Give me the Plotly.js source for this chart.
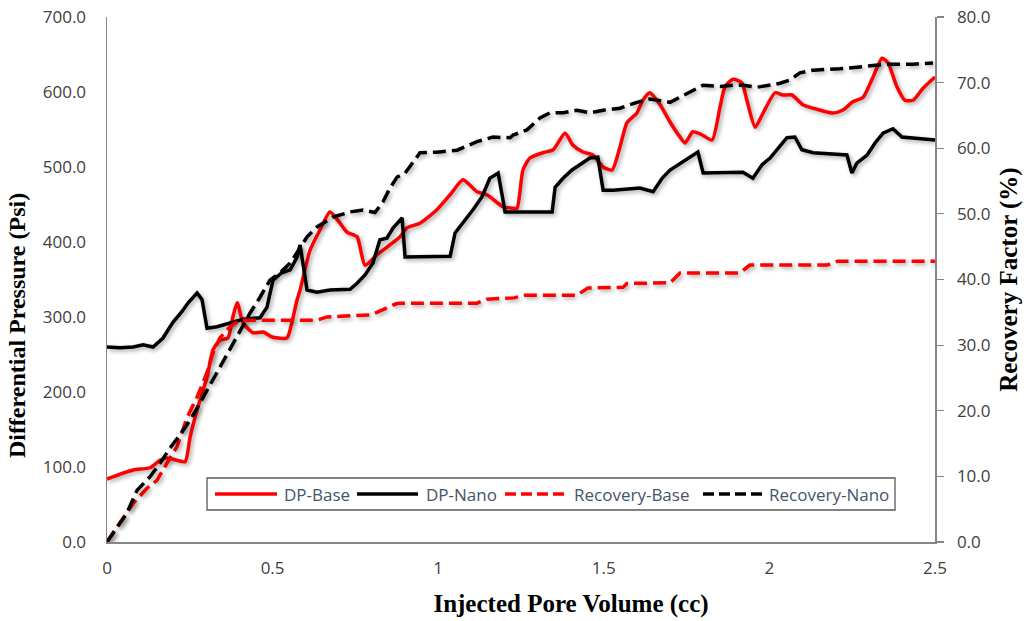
<!DOCTYPE html>
<html>
<head>
<meta charset="utf-8">
<script src="https://cdn.plot.ly/plotly-3.0.1.min.js"></script>
<style>
  html, body { margin: 0; padding: 0; background: #fff; }
  #chart { width: 1027px; height: 621px; }
  .scatterlayer .trace path.js-line { filter: drop-shadow(2px 2px 2px rgba(0,0,0,0.35)); }
  .g-xtitle { transform: translate(50px, 0px); }
  .g-ytitle { transform: translate(0px, 46px); }
</style>
</head>
<body>
<div id="chart"></div>
<script>
// Injected pore volume (cc) and differential pressure (psi) — DP-Base
const dpBaseX = [0, 0.079, 0.130, 0.160, 0.181, 0.211, 0.236, 0.251, 0.272, 0.302, 0.320, 0.341, 0.365, 0.380, 0.393, 0.411, 0.441, 0.471, 0.501, 0.543, 0.553, 0.574, 0.583, 0.613, 0.643, 0.673, 0.697, 0.725, 0.755, 0.779, 0.815, 0.854, 0.885, 0.906, 0.945, 0.996, 1.036, 1.075, 1.117, 1.147, 1.196, 1.226, 1.238, 1.256, 1.277, 1.316, 1.347, 1.383, 1.407, 1.437, 1.467, 1.498, 1.525, 1.549, 1.570, 1.600, 1.618, 1.639, 1.670, 1.700, 1.730, 1.745, 1.769, 1.796, 1.827, 1.851, 1.866, 1.890, 1.917, 1.932, 1.957, 1.981, 2.017, 2.041, 2.068, 2.101, 2.144, 2.192, 2.222, 2.252, 2.283, 2.313, 2.340, 2.358, 2.385, 2.409, 2.434, 2.464, 2.500];
const dpBaseY = [84, 96, 99, 109, 112, 109, 107, 140, 176, 220, 256, 269, 272, 300, 319, 292, 279, 280, 273, 272, 283, 323, 336, 389, 416, 440, 429, 413, 407, 369, 383, 396, 407, 419, 425, 443, 463, 483, 467, 463, 447, 445, 445, 496, 512, 519, 523, 545, 529, 520, 516, 500, 496, 527, 559, 572, 589, 599, 583, 560, 540, 532, 547, 543, 536, 580, 607, 617, 612, 589, 553, 572, 599, 596, 596, 583, 577, 572, 576, 587, 593, 620, 645, 639, 607, 589, 589, 605, 620];

// DP-Nano
const dpNanoX = [0, 0.039, 0.079, 0.109, 0.139, 0.169, 0.199, 0.226, 0.245, 0.272, 0.287, 0.302, 0.332, 0.371, 0.411, 0.462, 0.483, 0.501, 0.528, 0.553, 0.574, 0.583, 0.604, 0.634, 0.673, 0.734, 0.755, 0.779, 0.803, 0.824, 0.845, 0.864, 0.891, 0.900, 0.936, 0.996, 1.036, 1.051, 1.075, 1.105, 1.132, 1.156, 1.181, 1.202, 1.247, 1.329, 1.344, 1.353, 1.377, 1.404, 1.428, 1.458, 1.482, 1.498, 1.528, 1.609, 1.649, 1.676, 1.700, 1.730, 1.760, 1.784, 1.800, 1.890, 1.920, 1.950, 1.978, 2.002, 2.026, 2.053, 2.077, 2.098, 2.132, 2.234, 2.249, 2.264, 2.295, 2.319, 2.343, 2.373, 2.400, 2.434, 2.500];
const dpNanoY = [260, 259, 260, 263, 260, 272, 293, 307, 319, 332, 323, 285, 287, 292, 297, 299, 313, 349, 359, 363, 380, 396, 336, 333, 336, 337, 345, 356, 372, 403, 405, 419, 432, 380, 380, 380, 381, 412, 425, 443, 460, 485, 492, 440, 440, 440, 440, 473, 485, 496, 503, 512, 513, 469, 469, 472, 467, 485, 496, 505, 513, 520, 492, 492, 493, 485, 503, 512, 525, 539, 540, 523, 519, 516, 492, 505, 516, 532, 545, 551, 540, 539, 536];

// Recovery factor (%) — Recovery-Base
const recBaseX = [0, 0.039, 0.079, 0.121, 0.151, 0.181, 0.211, 0.242, 0.272, 0.302, 0.320, 0.341, 0.371, 0.402, 0.634, 0.664, 0.794, 0.815, 0.854, 0.873, 0.885, 1.117, 1.147, 1.229, 1.262, 1.419, 1.452, 1.558, 1.570, 1.700, 1.730, 1.911, 1.941, 2.174, 2.207, 2.500];
const recBaseY = [0, 2.9, 5.9, 8.2, 9.4, 12.0, 14.5, 19.0, 22.1, 25.8, 28.8, 31.1, 32.8, 33.8, 33.8, 34.3, 34.6, 35.0, 35.8, 36.3, 36.4, 36.4, 37.0, 37.2, 37.6, 37.6, 38.7, 38.8, 39.4, 39.5, 41.0, 41.0, 42.2, 42.2, 42.8, 42.8];

// Recovery-Nano
const recNanoX = [0, 0.060, 0.091, 0.121, 0.130, 0.160, 0.190, 0.220, 0.251, 0.281, 0.311, 0.341, 0.371, 0.402, 0.432, 0.462, 0.492, 0.522, 0.553, 0.583, 0.604, 0.634, 0.682, 0.734, 0.773, 0.809, 0.833, 0.854, 0.876, 0.900, 0.924, 0.945, 0.996, 1.057, 1.117, 1.165, 1.217, 1.226, 1.268, 1.307, 1.338, 1.377, 1.419, 1.458, 1.498, 1.549, 1.600, 1.639, 1.700, 1.730, 1.769, 1.800, 1.851, 1.890, 1.920, 1.963, 2.032, 2.062, 2.092, 2.132, 2.213, 2.274, 2.355, 2.434, 2.494];
const recNanoY = [0, 4.4, 7.9, 9.4, 9.95, 12.0, 14.3, 16.3, 18.6, 21.2, 23.9, 26.7, 29.3, 32.0, 34.9, 37.3, 39.9, 41.0, 42.5, 44.8, 46.5, 48.0, 49.5, 50.3, 50.6, 50.2, 51.8, 53.9, 55.6, 56.2, 57.8, 59.3, 59.4, 59.7, 61.0, 61.7, 61.6, 62.0, 62.8, 64.6, 65.4, 65.4, 65.8, 65.4, 65.8, 66.1, 67.0, 67.5, 67.0, 67.8, 68.9, 69.6, 69.4, 69.6, 69.6, 69.3, 69.9, 70.4, 71.5, 71.9, 72.1, 72.4, 72.8, 72.8, 73.0];

const seriesNames = ['DP-Base', 'DP-Nano', 'Recovery-Base', 'Recovery-Nano'];
const xTicks = [0, 0.5, 1, 1.5, 2, 2.5];
const xTickText = ['0', '0.5', '1', '1.5', '2', '2.5'];

const RED = '#FF0000', BLACK = '#000000', AXIS = '#868686';
const tickFont = {family: 'Open Sans, Noto Sans, sans-serif', size: 17, color: '#404040'};
const titleFont = {family: 'Liberation Serif, Times New Roman, serif', size: 25, color: '#000000', weight: 'bold'};

const traces = [
  {x: dpBaseX, y: dpBaseY, name: seriesNames[0], type: 'scatter', mode: 'lines',
   line: {color: RED, width: 3.5, shape: 'spline', smoothing: 0.6}, yaxis: 'y', xaxis: 'x'},
  {x: dpNanoX, y: dpNanoY, name: seriesNames[1], type: 'scatter', mode: 'lines',
   line: {color: BLACK, width: 3.5}, yaxis: 'y', xaxis: 'x'},
  {x: recBaseX, y: recBaseY, name: seriesNames[2], type: 'scatter', mode: 'lines',
   line: {color: RED, width: 3.5, dash: '13px,6px'}, yaxis: 'y2', xaxis: 'x'},
  {x: recNanoX, y: recNanoY, name: seriesNames[3], type: 'scatter', mode: 'lines',
   line: {color: BLACK, width: 3.5, dash: '13px,6px'}, yaxis: 'y2', xaxis: 'x'}
];

// custom legend (box, line samples, labels) in paper coordinates
const legY = 0.0914;
const legSamples = [
  {x0: 0.1304, x1: 0.2053, color: RED, dash: 'solid', tx: 0.2114},
  {x0: 0.3019, x1: 0.3756, color: BLACK, dash: 'solid', tx: 0.3829},
  {x0: 0.4807, x1: 0.5531, color: RED, dash: '11px,5px', tx: 0.5616},
  {x0: 0.7198, x1: 0.7923, color: BLACK, dash: '11px,5px', tx: 0.7971}
];
const shapes = [{type: 'rect', xref: 'paper', yref: 'paper', x0: 0.1208, x1: 0.9517, y0: 0.0610, y1: 0.1219,
  fillcolor: '#FFFFFF', line: {color: '#595959', width: 1.3}, layer: 'above'}];
const annotations = [];
legSamples.forEach((s, i) => {
  shapes.push({type: 'line', xref: 'paper', yref: 'paper', x0: s.x0, x1: s.x1, y0: legY, y1: legY,
    line: {color: s.color, width: 3.5, dash: s.dash}, layer: 'above'});
  annotations.push({xref: 'paper', yref: 'paper', x: s.tx, y: legY, xanchor: 'left', yanchor: 'middle',
    text: seriesNames[i], showarrow: false,
    font: {family: 'Open Sans, Noto Sans, sans-serif', size: 17, color: '#44546A'}});
});

const layout = {
  width: 1027, height: 621,
  margin: {l: 107, r: 92, t: 17, b: 79, pad: 0},
  paper_bgcolor: '#FFFFFF', plot_bgcolor: '#FFFFFF',
  showlegend: false,
  xaxis: {range: [0, 2.5], tickvals: xTicks, ticktext: xTickText, showgrid: false, zeroline: false,
    showline: true, linecolor: AXIS, linewidth: 1.5, ticks: '', ticklabelstandoff: 10,
    tickfont: tickFont, title: {text: 'Injected Pore Volume (cc)', font: titleFont, standoff: 16}},
  xaxis2: {range: [0, 2.5], overlaying: 'x', side: 'top', tickvals: xTicks, showticklabels: false,
    showgrid: false, zeroline: false, showline: true, linecolor: AXIS, linewidth: 1.5,
    ticks: 'outside', ticklen: 5, tickcolor: AXIS, tickwidth: 1.2},
  yaxis: {range: [0, 700], dtick: 100, tickformat: '.1f', showgrid: false, zeroline: false,
    showline: true, linecolor: AXIS, linewidth: 1.5, ticks: '', ticklabelstandoff: 16,
    tickfont: tickFont, title: {text: 'Differential Pressure (Psi)', font: {...titleFont, size: 24}, standoff: 10}},
  yaxis2: {range: [0, 80], dtick: 10, tickformat: '.1f', overlaying: 'y', side: 'right', showgrid: false,
    zeroline: false, showline: true, linecolor: AXIS, linewidth: 1.5, ticks: 'outside', ticklen: 7,
    tickcolor: AXIS, tickwidth: 1.2, ticklabelstandoff: 10, tickfont: tickFont,
    title: {text: 'Recovery Factor (%)', font: titleFont, standoff: 10}},
  shapes: shapes,
  annotations: annotations
};

Plotly.newPlot('chart', traces, layout, {displayModeBar: false, staticPlot: true});
</script>
</body>
</html>
